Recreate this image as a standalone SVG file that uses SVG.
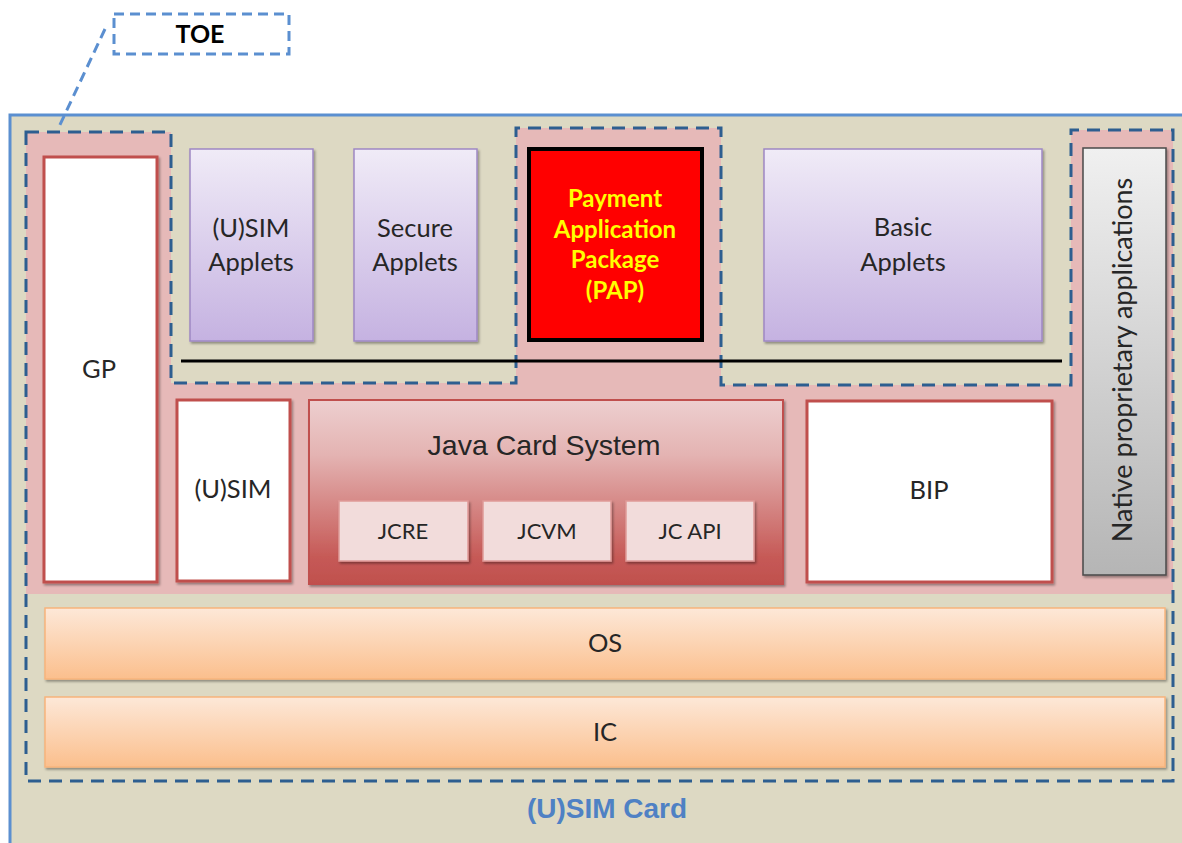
<svg xmlns="http://www.w3.org/2000/svg" width="1182" height="843" viewBox="0 0 1182 843">
<defs>
<style>
.lbl{font-family:Lato,"Open Sans","Liberation Sans",sans-serif;font-size:25.5px;fill:#262626;text-anchor:middle}
.small{font-family:Lato,"Open Sans","Liberation Sans",sans-serif;font-size:22px;fill:#262626;text-anchor:middle}
.pap{font-family:Lato,"Open Sans","Liberation Sans",sans-serif;font-size:24px;font-weight:bold;fill:#ffff00;text-anchor:middle}
.white{fill:#ffffff;stroke:#c0504d;stroke-width:3}
.applet{fill:url(#lav);stroke:#9e88c4;stroke-width:1.5}
.jc{fill:#f2dcdb;stroke:#e09a98;stroke-width:1.5}
.layer{fill:url(#orange);stroke:#f8b47c;stroke-width:1.5}
.dash{fill:none;stroke:#2d5e90;stroke-width:3;stroke-dasharray:13 8}
</style>
<linearGradient id="lav" x1="0" y1="0" x2="0" y2="1">
<stop offset="0" stop-color="#f0ebf7"/><stop offset="1" stop-color="#c5b2e1"/>
</linearGradient>
<linearGradient id="jcs" x1="0" y1="0" x2="0" y2="1">
<stop offset="0" stop-color="#edcfcf"/><stop offset="0.3" stop-color="#e4b3b2"/><stop offset="0.85" stop-color="#c65a57"/><stop offset="1" stop-color="#c0504d"/>
</linearGradient>
<linearGradient id="orange" x1="0" y1="0" x2="0" y2="1">
<stop offset="0" stop-color="#fde8d8"/><stop offset="1" stop-color="#fbbf8d"/>
</linearGradient>
<linearGradient id="gray" x1="0" y1="0" x2="0" y2="1">
<stop offset="0" stop-color="#f0f0f0"/><stop offset="1" stop-color="#b5b5b5"/>
</linearGradient>
<filter id="sh" x="-5%" y="-5%" width="115%" height="115%">
<feDropShadow dx="1.5" dy="2" stdDeviation="1.2" flood-color="#000" flood-opacity="0.35"/>
</filter>
</defs>

<rect x="0" y="0" width="1182" height="843" fill="#ffffff"/>

<g id="usim-card">
<rect x="10" y="115" width="1180" height="740" fill="#ddd9c3" stroke="#5b8fd0" stroke-width="3"/>
<text x="607" y="818" font-family="'Liberation Sans',Arial,sans-serif" font-size="28" font-weight="bold" fill="#4f81c4" text-anchor="middle">(U)SIM Card</text>
</g>

<g id="toe-region">
<path d="M26,132 H171 V383 H516 V128 H721 V385 H1071 V130 H1173 V594 H26 Z" fill="#e6b9b8"/>
<path class="dash" d="M26,132 H171 V383 H516 V128 H721 V385 H1071 V130 H1173 V781 H26 Z"/>
</g>

<g id="toe-label">
<rect x="114" y="14" width="175" height="40" fill="none" stroke="#5b8fd0" stroke-width="3" stroke-dasharray="10 6"/>
<text x="200" y="43" font-family="Lato,'Open Sans',sans-serif" font-size="25" font-weight="bold" fill="#000" text-anchor="middle">TOE</text>
</g>

<g id="connectors">
<line x1="105" y1="29" x2="58" y2="129" stroke="#5b8fd0" stroke-width="3" stroke-dasharray="10 6"/>
</g>

<g id="applet-line">
<line x1="181" y1="361" x2="1062" y2="361" stroke="#000" stroke-width="3"/>
</g>

<g id="gp">
<rect class="white" x="44" y="157" width="113" height="425" filter="url(#sh)"/>
<text class="lbl" x="99" y="378">GP</text>
</g>

<g id="usim-applets">
<rect class="applet" x="190" y="149" width="123" height="192" filter="url(#sh)"/>
<text class="lbl" x="251" y="237">(U)SIM</text>
<text class="lbl" x="251" y="271">Applets</text>
</g>

<g id="secure-applets">
<rect class="applet" x="354" y="149" width="123" height="192" filter="url(#sh)"/>
<text class="lbl" x="415" y="237">Secure</text>
<text class="lbl" x="415" y="271">Applets</text>
</g>

<g id="pap">
<rect x="529" y="149" width="173" height="191" fill="#ff0000" stroke="#000" stroke-width="4"/>
<text class="pap" x="615" y="207">Payment</text>
<text class="pap" x="615" y="238">Application</text>
<text class="pap" x="615" y="268">Package</text>
<text class="pap" x="615" y="299">(PAP)</text>
</g>

<g id="basic-applets">
<rect class="applet" x="764" y="149" width="278" height="192" filter="url(#sh)"/>
<text class="lbl" x="903" y="236">Basic</text>
<text class="lbl" x="903" y="271">Applets</text>
</g>

<g id="native">
<rect x="1083" y="148" width="83" height="427" fill="url(#gray)" stroke="#4a4a4a" stroke-width="1.5" filter="url(#sh)"/>
<text class="lbl" style="font-size:27px" transform="translate(1132,360) rotate(-90)" x="0" y="0">Native proprietary applications</text>
</g>

<g id="usim">
<rect class="white" x="177" y="400" width="113" height="181" filter="url(#sh)"/>
<text class="lbl" x="233" y="498">(U)SIM</text>
</g>

<g id="jcs">
<rect x="309" y="400" width="474" height="184" fill="url(#jcs)" stroke="#c0504d" stroke-width="2" filter="url(#sh)"/>
<text x="544" y="455" font-family="'Liberation Sans',Arial,sans-serif" font-size="28.5" fill="#262626" text-anchor="middle">Java Card System</text>
</g>

<g id="jcre">
<rect class="jc" x="339" y="501" width="129" height="60" filter="url(#sh)"/>
<text class="small" x="403" y="539">JCRE</text>
</g>
<g id="jcvm">
<rect class="jc" x="483" y="501" width="128" height="60" filter="url(#sh)"/>
<text class="small" x="547" y="539">JCVM</text>
</g>
<g id="jcapi">
<rect class="jc" x="626" y="501" width="128" height="60" filter="url(#sh)"/>
<text class="small" x="690" y="539">JC API</text>
</g>

<g id="bip">
<rect class="white" x="807" y="401" width="245" height="181" filter="url(#sh)"/>
<text class="lbl" x="929" y="499">BIP</text>
</g>

<g id="os">
<rect class="layer" x="45" y="608" width="1120" height="71" filter="url(#sh)"/>
<text class="lbl" x="605" y="652">OS</text>
</g>

<g id="ic">
<rect class="layer" x="45" y="697" width="1120" height="70" filter="url(#sh)"/>
<text class="lbl" x="605" y="741">IC</text>
</g>
</svg>
